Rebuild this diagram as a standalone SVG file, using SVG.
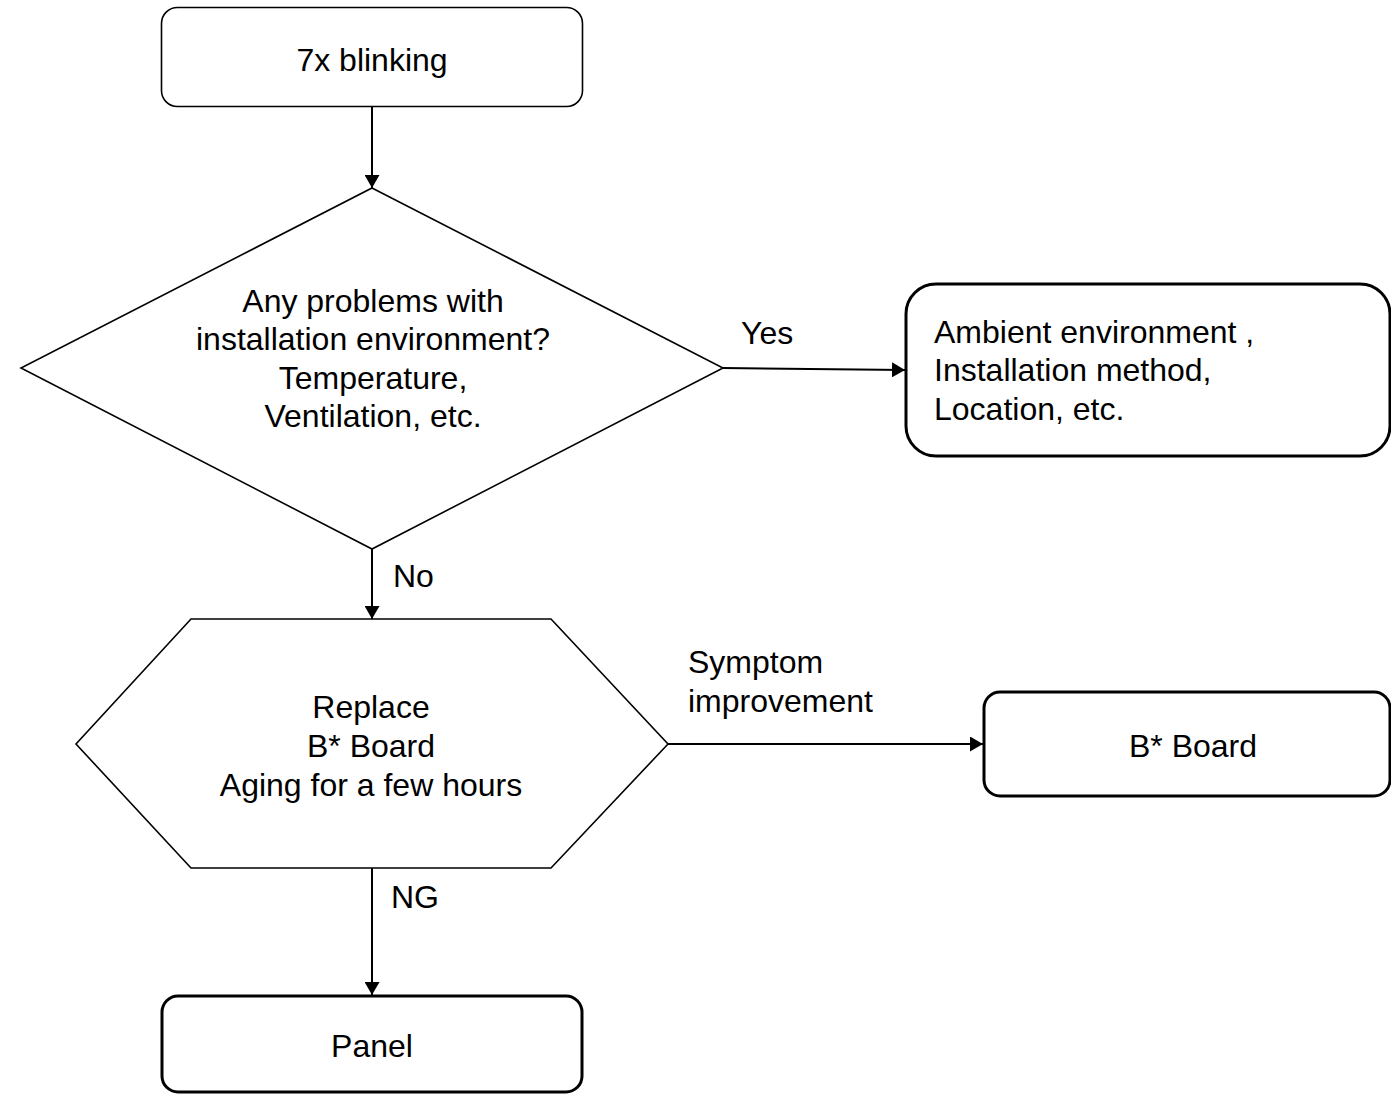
<svg xmlns="http://www.w3.org/2000/svg" width="1391" height="1094" viewBox="0 0 1391 1094">
<style>
text{font-family:"Liberation Sans",Arial,sans-serif;font-size:32px;fill:#000}
.c{text-anchor:middle}
.thin{fill:#fff;stroke:#000;stroke-width:1.6}
.thick{fill:#fff;stroke:#000;stroke-width:3}
.edge{fill:none;stroke:#000;stroke-width:2}
</style>
<defs>
<marker id="ah" viewBox="0 0 13 15" refX="13" refY="7.5" markerWidth="13" markerHeight="15" markerUnits="userSpaceOnUse" orient="auto">
<path d="M0,0 L13,7.5 L0,15 z" fill="#000"/>
</marker>
</defs>
<rect width="1391" height="1094" fill="#fff"/>
<g id="connectors">
<line class="edge" x1="372" y1="107" x2="372" y2="188" marker-end="url(#ah)"/>
<line class="edge" x1="723" y1="368" x2="905" y2="370" marker-end="url(#ah)"/>
<line class="edge" x1="372" y1="549" x2="372" y2="619" marker-end="url(#ah)"/>
<line class="edge" x1="668" y1="744" x2="983" y2="744" marker-end="url(#ah)"/>
<line class="edge" x1="372" y1="868" x2="372" y2="995" marker-end="url(#ah)"/>
<text x="741" y="344">Yes</text>
<text x="393" y="587">No</text>
<text x="688" y="673">Symptom</text>
<text x="688" y="712">improvement</text>
<text x="391" y="908">NG</text>
</g>
<g id="start">
<rect class="thin" x="161.5" y="7.5" width="421" height="99" rx="16"/>
<text class="c" x="372" y="71">7x blinking</text>
</g>
<g id="decision">
<polygon class="thin" points="372,188 723,368 372,549 21,368"/>
<text class="c" x="373" y="312">Any problems with</text>
<text class="c" x="373" y="350">installation environment?</text>
<text class="c" x="373" y="389">Temperature,</text>
<text class="c" x="373" y="427">Ventilation, etc.</text>
</g>
<g id="ambient">
<rect class="thick" x="906" y="284" width="484" height="172" rx="30"/>
<text x="934" y="343">Ambient environment ,</text>
<text x="934" y="381">Installation method,</text>
<text x="934" y="420">Location, etc.</text>
</g>
<g id="replace">
<polygon class="thin" points="191,619 551,619 668,744 551,868 191,868 76,744"/>
<text class="c" x="371" y="718">Replace</text>
<text class="c" x="371" y="757">B* Board</text>
<text class="c" x="371" y="796">Aging for a few hours</text>
</g>
<g id="bboard">
<rect class="thick" x="984" y="692" width="406" height="104" rx="16"/>
<text class="c" x="1193" y="757">B* Board</text>
</g>
<g id="panel">
<rect class="thick" x="162" y="996" width="420" height="96" rx="16"/>
<text class="c" x="372" y="1057">Panel</text>
</g>
</svg>
